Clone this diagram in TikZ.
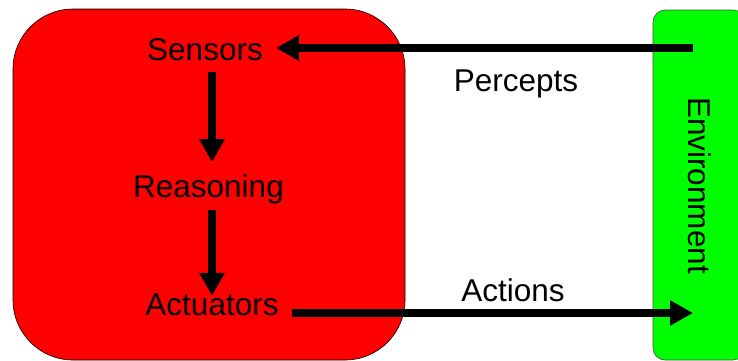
\documentclass[tikz,border=0pt]{standalone}
\usepackage{fontspec}
\setmainfont{Liberation Sans}
\usetikzlibrary{shapes,positioning,arrows.meta}
\tikzset{txt/.style={inner ysep=6pt,inner xsep=13pt,font=\fontsize{31.5}{36}\selectfont}}
\tikzset{agentbox/.style={draw=black,line width=0.6pt,fill=red,rounded corners=60pt,minimum width=392pt,minimum height=351pt,inner sep=0pt}}
\tikzset{envbox/.style={draw=black!70,line width=0.6pt,fill=green,rounded corners=12pt,minimum width=92pt,minimum height=350pt,inner sep=0pt}}

\begin{document}
\begin{tikzpicture}[x=1pt,y=-1pt,>={Triangle[length=23pt,width=24pt]}]
    \useasboundingbox (0,0) rectangle (738,360);
    \node[agentbox] (agent) at (209,184.5) {};
    \node[envbox] (env) at (699,185) {};
    \node[txt,rotate=-90] (envl) at (700,185.5) {Environment};

    \node[txt] (sens) at (205,49.5) {Sensors};
    \node[txt] (reas) at (208.5,189) {Reasoning};
    \node[txt] (act) at (212,305) {Actuators};
    \node[txt] (perc) at (516,84) {Percepts};
    \node[txt] (acts) at (513,290) {Actions};

    \coordinate (pin) at (693,48);
    \coordinate (pout) at (693,313);

    \begin{scope}[line width=7.5pt]
    \draw [->] (pin) to [] (sens.east |- pin);
    \draw [->,shorten <=5pt,shorten >=6pt] (sens.south -| act.north) to [] (reas.north -| act.north);
    \draw [->,shorten >=-8pt] (reas.south -| act.north) to [] (act.north);
    \draw [->] (act.east |- pout) to [] (pout);
    \end{scope}
\end{tikzpicture}
\end{document}
